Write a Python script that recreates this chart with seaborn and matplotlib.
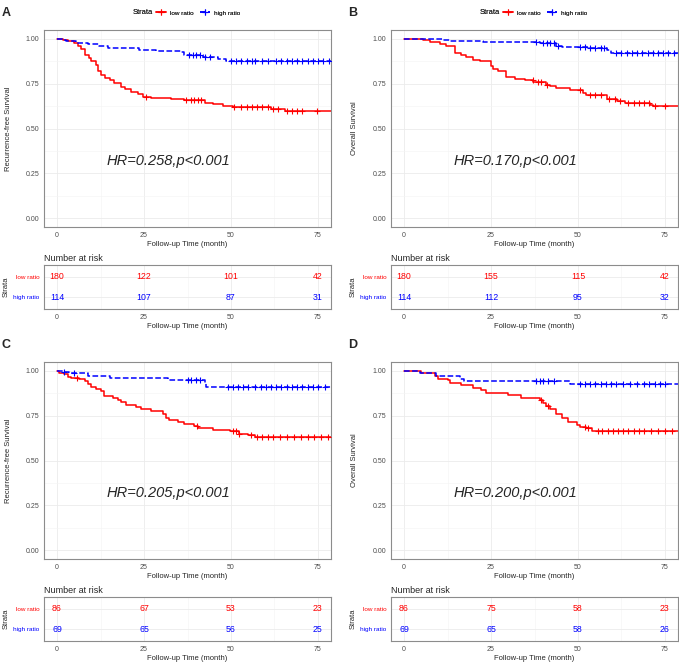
import numpy as np
import matplotlib
matplotlib.use('Agg')
import matplotlib.pyplot as plt
from matplotlib.lines import Line2D
import seaborn as sns

# ---- values ----
follow_up_end = 80
risk_times = [0, 25, 50, 75]

# A: recurrence-free survival, training cohort
a_low_t = [0, 1.6, 3.1, 5.0, 5.9, 6.9, 7.9, 9.3, 9.8, 11.2, 11.9, 12.7, 13.9, 15.1, 16.5, 18.4,
           19.4, 21.3, 23.2, 24.8, 27.0, 32.8, 36.6, 42.4, 44.8, 47.7, 50.5, 61.6, 65.4, 69.7]
a_low_s = [1.0, 0.995, 0.99, 0.98, 0.96, 0.945, 0.91, 0.895, 0.875, 0.855, 0.82, 0.80, 0.78, 0.77,
           0.755, 0.73, 0.72, 0.705, 0.69, 0.675, 0.67, 0.665, 0.66, 0.645, 0.635, 0.625, 0.62,
           0.61, 0.60, 0.595]
a_low_cens = [25.6, 37, 38.5, 39.5, 40.5, 41.5, 51, 53, 54.5, 56, 57.5, 59, 60.5, 62, 63.5,
              66, 67.5, 69, 70.5, 74.8]
a_high_t = [0, 1.6, 2.6, 5.5, 8.8, 12.2, 14.6, 23.7, 28.5, 35.7, 36.6, 41.9, 46.2, 48.6]
a_high_s = [1.0, 0.995, 0.99, 0.98, 0.97, 0.96, 0.95, 0.94, 0.935, 0.925, 0.91, 0.90, 0.89, 0.875]
a_high_cens = [38, 39, 40, 41, 42.5, 44, 50, 51.5, 53, 54.5, 56, 57, 59, 60.5, 63, 64.5, 66,
               67.5, 69, 70.5, 72, 73.5, 75, 76.5, 78.3]
a_risk_low = [180, 122, 101, 42]
a_risk_high = [114, 107, 87, 31]

# B: overall survival, training cohort
b_low_t = [0, 3.5, 5.5, 7.4, 10.3, 12.2, 14.6, 16.5, 17.9, 19.8, 21.8, 25.1, 25.6, 27.0, 29.4,
           31.8, 34.7, 37.1, 40.9, 41.9, 43.8, 47.7, 51.5, 52.4, 58.2, 61.1, 63.5, 70.7, 71.6]
b_low_s = [1.0, 0.998, 0.995, 0.985, 0.972, 0.963, 0.92, 0.91, 0.90, 0.885, 0.875, 0.848, 0.834,
           0.823, 0.79, 0.778, 0.77, 0.758, 0.745, 0.735, 0.724, 0.715, 0.70, 0.685, 0.667,
           0.655, 0.642, 0.631, 0.627]
b_low_cens = [37, 38.5, 39.5, 41, 50.5, 53.5, 55, 56.5, 59, 60.5, 62, 64.5, 66, 67.5, 69, 70.5,
              72, 75]
b_high_t = [0, 11.2, 13.1, 22.7, 39.0, 43.8, 45.3, 48.6, 53.4, 58.2, 59.6]
b_high_s = [1.0, 0.995, 0.99, 0.983, 0.978, 0.963, 0.953, 0.955, 0.948, 0.94, 0.922]
b_high_cens = [38, 40, 41, 42, 43, 44.3, 50.5, 52, 53.5, 55, 56.5, 57.5, 61, 62.5, 64, 65.5,
               67, 68.5, 70, 71.5, 73, 74.5, 76, 77.5]
b_risk_low = [180, 155, 115, 42]
b_risk_high = [114, 112, 95, 32]

# C: recurrence-free survival, validation cohort
c_low_t = [0, 0.7, 2.1, 3.1, 4.0, 6.4, 7.9, 8.8, 9.8, 11.2, 12.7, 13.6, 16.0, 17.4, 18.4, 19.8,
           22.7, 24.2, 27.0, 30.4, 31.4, 32.3, 34.7, 36.6, 39.5, 40.5, 41.4, 44.8, 49.6, 52.4,
           54.8, 56.8]
c_low_s = [1.0, 0.99, 0.981, 0.966, 0.959, 0.953, 0.944, 0.929, 0.912, 0.897, 0.886, 0.86,
           0.849, 0.837, 0.826, 0.811, 0.80, 0.789, 0.778, 0.761, 0.738, 0.725, 0.714, 0.705,
           0.692, 0.684, 0.68, 0.671, 0.664, 0.649, 0.643, 0.632]
c_low_cens = [5.7, 40.2, 50.5, 51.5, 52.4, 55.8, 57.5, 59, 60.5, 62, 64, 66, 68, 70, 72, 74,
              76, 78]
c_high_t = [0, 1.6, 3.5, 8.8, 15.1, 31.8, 42.4, 42.9]
c_high_s = [1.0, 0.994, 0.987, 0.972, 0.959, 0.948, 0.935, 0.91]
c_high_cens = [2.1, 5.0, 37.6, 38.5, 40, 41, 49, 50.5, 52, 53.5, 55, 57, 58.5, 60, 61.5, 63,
               64.5, 66, 67.5, 69, 70.5, 72, 73.5, 75, 77]
c_risk_low = [86, 67, 53, 23]
c_risk_high = [69, 65, 56, 25]

# D: overall survival, validation cohort
d_low_t = [0, 5.0, 8.8, 9.8, 12.7, 13.1, 16.5, 19.8, 22.2, 23.7, 29.9, 33.7, 39.0, 40.0, 40.9,
           41.9, 43.8, 45.3, 47.2, 49.6, 50.5, 52.4, 53.9]
d_low_s = [1.0, 0.989, 0.972, 0.957, 0.95, 0.935, 0.92, 0.907, 0.892, 0.879, 0.864, 0.85, 0.837,
           0.819, 0.804, 0.79, 0.757, 0.738, 0.716, 0.70, 0.688, 0.68, 0.667]
d_low_cens = [39.4, 41.3, 52.0, 53.0, 55.8, 57, 58.5, 60, 61.5, 63, 64.5, 66, 67.5, 69, 71, 73,
              75, 77]
d_high_t = [0, 4.5, 9.3, 16.0, 17.2, 47.7]
d_high_s = [1.0, 0.989, 0.972, 0.957, 0.944, 0.929]
d_high_cens = [38, 39, 40, 41.5, 43, 50.5, 52, 53.5, 55, 56.5, 58, 59.5, 61, 63, 65, 67, 69,
               70.5, 72, 73.5, 75]
d_risk_low = [86, 75, 58, 23]
d_risk_high = [69, 65, 58, 26]

panel_letters = ['A', 'B', 'C', 'D']
y_titles = ['Recurrence-free Survival', 'Overall Survival', 'Recurrence-free Survival', 'Overall Survival']
hr_texts = ['HR=0.258,p<0.001', 'HR=0.170,p<0.001', 'HR=0.205,p<0.001', 'HR=0.200,p<0.001']
strata = ['low ratio', 'high ratio']

panels = [
    (a_low_t, a_low_s, a_low_cens, a_high_t, a_high_s, a_high_cens, a_risk_low, a_risk_high),
    (b_low_t, b_low_s, b_low_cens, b_high_t, b_high_s, b_high_cens, b_risk_low, b_risk_high),
    (c_low_t, c_low_s, c_low_cens, c_high_t, c_high_s, c_high_cens, c_risk_low, c_risk_high),
    (d_low_t, d_low_s, d_low_cens, d_high_t, d_high_s, d_high_cens, d_risk_low, d_risk_high),
]

sns.set_style('white')
plt.rcParams['font.family'] = ['Liberation Sans', 'DejaVu Sans']

W, H = 679, 664
fig = plt.figure(figsize=(W / 100, H / 100), dpi=100)


def rect(l, t, r, b):
    return [l / W, 1 - b / H, (r - l) / W, (b - t) / H]


def step_at(t, s, x):
    idx = np.searchsorted(np.asarray(t), np.asarray(x), side='right') - 1
    return np.asarray(s)[idx]


def style_axes(ax):
    for sp in ax.spines.values():
        sp.set_color('#8C8C8C')
        sp.set_linewidth(0.8)
    ax.tick_params(axis='both', which='major', labelsize=5, labelcolor='#4D4D4D', color='#555555',
                   length=2, width=0.5, pad=1.5)
    ax.tick_params(axis='both', which='minor', length=0)
    ax.grid(True, which='major', color='#EBEBEB', lw=0.6)
    ax.grid(True, which='minor', color='#F4F4F4', lw=0.4)
    ax.set_axisbelow(True)


RED, BLUE = '#FF0000', '#0000FF'
lefts = [44, 391, 44, 391]
tops = [30, 30, 362, 362]

for i, (lt, ls, lc, ht, hs, hc, rl, rh) in enumerate(panels):
    l, t = lefts[i], tops[i]
    r = l + 287
    # survival curves
    ax = fig.add_axes(rect(l, t, r, t + 197))
    sns.lineplot(x=lt + [follow_up_end], y=ls + [ls[-1]], drawstyle='steps-post', estimator=None,
                 sort=False, color=RED, lw=1.1, ax=ax)
    sns.lineplot(x=ht + [follow_up_end], y=hs + [hs[-1]], drawstyle='steps-post', estimator=None,
                 sort=False, color=BLUE, lw=1.1, linestyle='--', ax=ax)
    sns.scatterplot(x=lc, y=step_at(lt, ls, lc), marker='+', color=RED, s=20, linewidth=0.8,
                    ax=ax, legend=False, zorder=3)
    sns.scatterplot(x=hc, y=step_at(ht, hs, hc), marker='+', color=BLUE, s=20, linewidth=0.8,
                    ax=ax, legend=False, zorder=3)
    ax.set_xlim(-3.75, 78.75)
    ax.set_ylim(-0.05, 1.05)
    ax.set_xticks(risk_times)
    ax.set_xticks([12.5, 37.5, 62.5], minor=True)
    ax.set_yticks([0, 0.25, 0.5, 0.75, 1.0])
    ax.set_yticklabels(['0.00', '0.25', '0.50', '0.75', '1.00'])
    ax.set_yticks([0.125, 0.375, 0.625, 0.875], minor=True)
    style_axes(ax)
    ax.set_xlabel('Follow-up Time (month)', fontsize=5.5, labelpad=1.5)
    ax.set_ylabel(y_titles[i], fontsize=5.5, labelpad=10)
    ax.text(32, 0.32, hr_texts[i], fontsize=10.5, fontstyle='italic', ha='center', va='center')

    # legend above the panel
    handles = [Line2D([], [], color=RED, lw=1.1, marker='+', ms=4, mew=0.8),
               Line2D([], [], color=BLUE, lw=1.1, ls='--', marker='+', ms=4, mew=0.8)]
    cx = l + 143.5
    fig.text((cx - 35) / W, 1 - 13 / H, 'Strata', fontsize=5.4, ha='right', va='center')
    ax.legend(handles, strata, loc='center left', bbox_to_anchor=((cx - 32) / W, 1 - 13 / H),
              bbox_transform=fig.transFigure, ncol=2, frameon=False, fontsize=4.6,
              handlelength=1.6, handletextpad=0.7, columnspacing=0.9, borderpad=0, borderaxespad=0)
    fig.text((2 if i % 2 == 0 else 348) / W, 1 - (t - 17) / H, panel_letters[i], fontsize=9,
             fontweight='bold', va='center', ha='left')

    # number at risk table
    rt = t + 235
    rax = fig.add_axes(rect(l, rt, r, rt + 44))
    for x, n in zip(risk_times, rl):
        rax.text(x, 2, str(n), color=RED, ha='center', va='center', fontsize=6.3)
    for x, n in zip(risk_times, rh):
        rax.text(x, 1, str(n), color=BLUE, ha='center', va='center', fontsize=6.3)
    rax.set_xlim(-3.75, 78.75)
    rax.set_ylim(0.42, 2.58)
    rax.set_xticks(risk_times)
    rax.set_xticks([12.5, 37.5, 62.5], minor=True)
    rax.set_yticks([1, 2])
    rax.set_yticklabels(['high ratio', 'low ratio'])
    style_axes(rax)
    rax.grid(False, which='minor', axis='y')
    for lbl, c in zip(rax.get_yticklabels(), [BLUE, RED]):
        lbl.set_color(c)
        lbl.set_fontsize(4.6)
    rax.set_xlabel('Follow-up Time (month)', fontsize=5.5, labelpad=1.5)
    rax.set_ylabel('Strata', fontsize=5.5, labelpad=2)
    rax.set_title('Number at risk', loc='left', fontsize=6.5, pad=3)

fig.savefig('out.png', dpi=100)
